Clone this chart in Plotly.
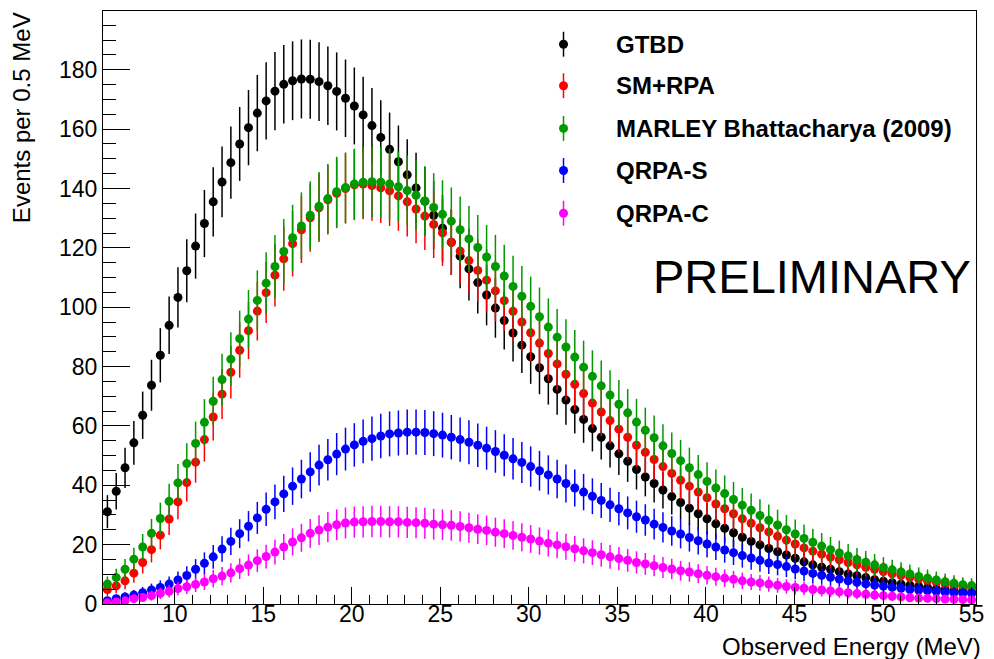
import numpy as np
import plotly.graph_objects as go

# ---- data ----
E_LO, E_HI, N_BINS = 5.95, 55.25, 99          # histogram binning (~0.5 MeV)

gtbd = [31.1, 38.0, 45.9, 54.3, 63.6, 73.7, 83.8, 93.9, 103.3, 112.3,
        120.6, 128.2, 135.5, 142.2, 148.7, 155.0, 160.5, 165.4, 169.5, 172.8,
        175.1, 176.3, 176.9, 176.8, 176.0, 174.6, 172.7, 170.4, 167.8, 164.8,
        161.2, 157.2, 153.2, 149.0, 144.6, 140.2, 135.7, 131.0, 126.6, 121.9,
        117.2, 112.9, 108.3, 104.1, 99.7, 95.5, 91.3, 87.2, 83.3, 79.6,
        75.9, 72.3, 68.7, 65.5, 62.2, 59.1, 56.2, 53.3, 50.6, 48.1,
        45.3, 42.8, 40.6, 38.4, 36.2, 34.2, 32.3, 30.4, 28.7, 27.0,
        25.5, 24.0, 22.5, 21.1, 19.9, 18.7, 17.6, 16.5, 15.4, 14.2,
        13.2, 12.4, 11.7, 10.9, 10.1, 9.5, 8.9, 8.2, 7.7, 7.2,
        6.7, 6.3, 5.9, 5.5, 5.1, 4.8, 4.5, 4.2, 3.9]

sm_rpa = [4.9, 6.1, 7.8, 10.4, 14.0, 18.3, 23.2, 28.6, 34.4, 40.9,
          47.8, 55.4, 63.0, 70.7, 78.1, 85.5, 92.1, 98.7, 104.9, 110.8,
          116.3, 121.4, 126.1, 130.1, 133.5, 136.2, 138.4, 140.0, 141.2, 141.5,
          141.0, 140.2, 139.2, 137.5, 135.5, 133.1, 130.7, 127.9, 125.1, 121.9,
          118.9, 115.7, 112.4, 109.1, 105.5, 102.2, 98.6, 95.0, 91.4, 87.9,
          84.4, 80.9, 77.4, 74.0, 70.9, 67.7, 64.7, 61.8, 58.9, 56.2,
          53.5, 51.1, 48.7, 46.3, 44.0, 41.7, 39.7, 37.7, 35.8, 33.7,
          32.1, 30.4, 28.7, 27.2, 25.7, 24.3, 22.8, 21.5, 20.2, 18.9,
          17.8, 16.8, 15.8, 14.9, 14.0, 13.2, 12.4, 11.7, 10.9, 10.2,
          9.6, 9.0, 8.4, 7.8, 7.3, 6.8, 6.3, 5.9, 5.5]

marley = [6.7, 8.9, 11.7, 15.1, 19.2, 23.8, 28.8, 34.6, 40.8, 47.3,
          54.1, 61.2, 68.3, 75.6, 82.5, 89.4, 96.0, 102.3, 108.1, 113.7,
          118.8, 123.4, 127.4, 131.0, 134.0, 136.6, 138.9, 140.3, 141.5, 142.1,
          142.3, 142.1, 141.5, 140.6, 139.3, 137.7, 135.8, 133.6, 131.3, 129.0,
          126.1, 123.0, 120.1, 116.9, 113.7, 110.5, 107.0, 103.7, 100.3, 96.8,
          93.3, 89.9, 86.6, 83.2, 79.8, 76.7, 73.5, 70.4, 67.3, 64.4,
          61.3, 58.5, 56.0, 53.3, 50.7, 48.3, 45.9, 43.6, 41.3, 39.1,
          37.2, 35.2, 33.3, 31.6, 29.8, 28.2, 26.6, 25.0, 23.6, 22.1,
          20.8, 19.5, 18.3, 17.2, 16.2, 15.0, 14.1, 13.2, 12.3, 11.5,
          10.8, 10.1, 9.3, 8.7, 8.1, 7.5, 7.0, 6.5, 6.2]

qrpa_s = [1.1, 1.8, 2.4, 3.0, 3.8, 4.7, 5.6, 6.7, 8.1, 9.6,
          11.7, 13.7, 15.9, 18.5, 21.1, 23.7, 26.2, 29.0, 31.9, 34.4,
          37.1, 39.7, 42.1, 44.5, 46.8, 48.6, 50.5, 52.2, 53.6, 54.8,
          55.7, 56.6, 57.3, 57.6, 57.9, 57.9, 57.8, 57.4, 56.9, 56.2,
          55.4, 54.5, 53.5, 52.5, 51.4, 50.1, 48.9, 47.7, 46.3, 44.9,
          43.5, 42.1, 40.6, 39.1, 37.7, 36.3, 34.9, 33.4, 32.1, 30.7,
          29.4, 28.3, 26.9, 25.8, 24.6, 23.6, 22.4, 21.3, 20.2, 19.2,
          18.2, 17.3, 16.3, 15.5, 14.7, 13.8, 13.3, 12.6, 11.8, 11.1,
          10.3, 9.7, 9.0, 8.4, 7.8, 7.3, 6.8, 6.4, 6.0, 5.6,
          5.3, 4.9, 4.7, 4.5, 4.3, 4.0, 3.8, 3.7, 3.6]

qrpa_c = [0.4, 0.7, 1.1, 1.8, 2.2, 2.8, 3.6, 4.3, 5.2, 5.8,
          6.6, 7.4, 8.5, 9.4, 10.5, 11.9, 13.1, 14.6, 16.0, 17.5,
          19.2, 20.9, 22.3, 23.8, 24.9, 25.9, 26.7, 27.3, 27.6, 27.7,
          27.8, 27.8, 27.7, 27.7, 27.5, 27.4, 27.2, 26.9, 26.7, 26.5,
          26.1, 25.7, 25.2, 24.8, 24.2, 23.7, 23.1, 22.5, 21.9, 21.2,
          20.5, 19.9, 19.3, 18.6, 17.9, 17.3, 16.6, 15.9, 15.3, 14.7,
          14.0, 13.5, 12.9, 12.3, 11.8, 11.2, 10.8, 10.2, 9.7, 9.2,
          8.7, 8.3, 7.8, 7.4, 7.1, 6.7, 6.3, 5.9, 5.6, 5.3,
          4.9, 4.7, 4.4, 4.1, 3.8, 3.5, 3.3, 3.0, 2.8, 2.6,
          2.4, 2.1, 2.0, 1.9, 1.8, 1.7, 1.6, 1.5, 1.4]

names = ["GTBD", "SM+RPA", "MARLEY Bhattacharya (2009)", "QRPA-S", "QRPA-C"]
values = [gtbd, sm_rpa, marley, qrpa_s, qrpa_c]
colors = ["#000000", "#ff0000", "#009900", "#0000ff", "#ff00ff"]

x_ticks = [10, 15, 20, 25, 30, 35, 40, 45, 50, 55]
y_ticks = [0, 20, 40, 60, 80, 100, 120, 140, 160, 180]

# ---- figure ----
edges = np.linspace(E_LO, E_HI, N_BINS + 1)
centers = 0.5 * (edges[:-1] + edges[1:])

FONT = "Liberation Sans, Arial, Helvetica, sans-serif"
fig = go.Figure()

for name, vals, col in zip(names, values, colors):
    v = np.array(vals, dtype=float)
    fig.add_trace(go.Scatter(
        x=centers, y=v, mode="markers", name=name, showlegend=False,
        marker=dict(symbol="circle", size=9, color=col, line=dict(width=0)),
        error_y=dict(type="data", array=np.sqrt(v), width=0, thickness=1.5, color=col),
        hoverinfo="skip"))

# custom legend (marker with vertical error bar) drawn on an overlay axis in [0,1]
leg_x, leg_text_x = 0.5275, 0.585
leg_rows = [0.944, 0.874, 0.802, 0.731, 0.659]
annotations = []
for name, col, ry in zip(names, colors, leg_rows):
    fig.add_trace(go.Scatter(
        x=[leg_x], y=[ry], xaxis="x2", yaxis="y2", mode="markers", showlegend=False,
        marker=dict(symbol="circle", size=9, color=col, line=dict(width=0)),
        error_y=dict(type="constant", value=0.021, width=0, thickness=1.5, color=col),
        hoverinfo="skip"))
    annotations.append(dict(xref="paper", yref="paper", x=leg_text_x, y=ry,
                            xanchor="left", yanchor="middle", showarrow=False,
                            text="<b>%s</b>" % name,
                            font=dict(family=FONT, size=24, color="black")))

annotations.append(dict(xref="paper", yref="paper", x=0.628, y=0.553,
                        xanchor="left", yanchor="middle", showarrow=False,
                        text="PRELIMINARY", font=dict(family=FONT, size=47, color="black")))
annotations.append(dict(xref="paper", yref="paper", x=1.008, y=-0.071,
                        xanchor="right", yanchor="middle", showarrow=False,
                        text="Observed Energy (MeV)", font=dict(family=FONT, size=24, color="black")))
annotations.append(dict(xref="paper", yref="paper", x=-0.093, y=1.002,
                        xanchor="center", yanchor="top", showarrow=False, textangle=-90,
                        text="Events per 0.5 MeV", font=dict(family=FONT, size=24, color="black")))

fig.update_layout(
    width=994, height=659,
    margin=dict(l=103, r=12, t=10, b=55),
    paper_bgcolor="white", plot_bgcolor="white",
    font=dict(family=FONT, size=23, color="black"),
    showlegend=False,
    annotations=annotations,
    xaxis=dict(range=[E_LO, E_HI], tickvals=x_ticks, ticks="inside", ticklen=17, tickwidth=1.3,
               tickcolor="black", showline=True, mirror=True, linecolor="black", linewidth=1.3,
               showgrid=False, zeroline=False, tickfont=dict(family=FONT, size=23),
               ticklabelstandoff=-11,
               minor=dict(dtick=1, ticks="inside", ticklen=9, tickwidth=1.3, tickcolor="black",
                          showgrid=False)),
    yaxis=dict(range=[0, 199.8], tickvals=y_ticks, ticks="inside", ticklen=27, tickwidth=1.3,
               tickcolor="black", showline=True, mirror=True, linecolor="black", linewidth=1.3,
               showgrid=False, zeroline=False, tickfont=dict(family=FONT, size=23),
               minor=dict(dtick=5, ticks="inside", ticklen=13, tickwidth=1.3, tickcolor="black",
                          showgrid=False)),
    xaxis2=dict(overlaying="x", range=[0, 1], visible=False, fixedrange=True),
    yaxis2=dict(overlaying="y", range=[0, 1], visible=False, fixedrange=True),
)

fig.write_html("out.html")
